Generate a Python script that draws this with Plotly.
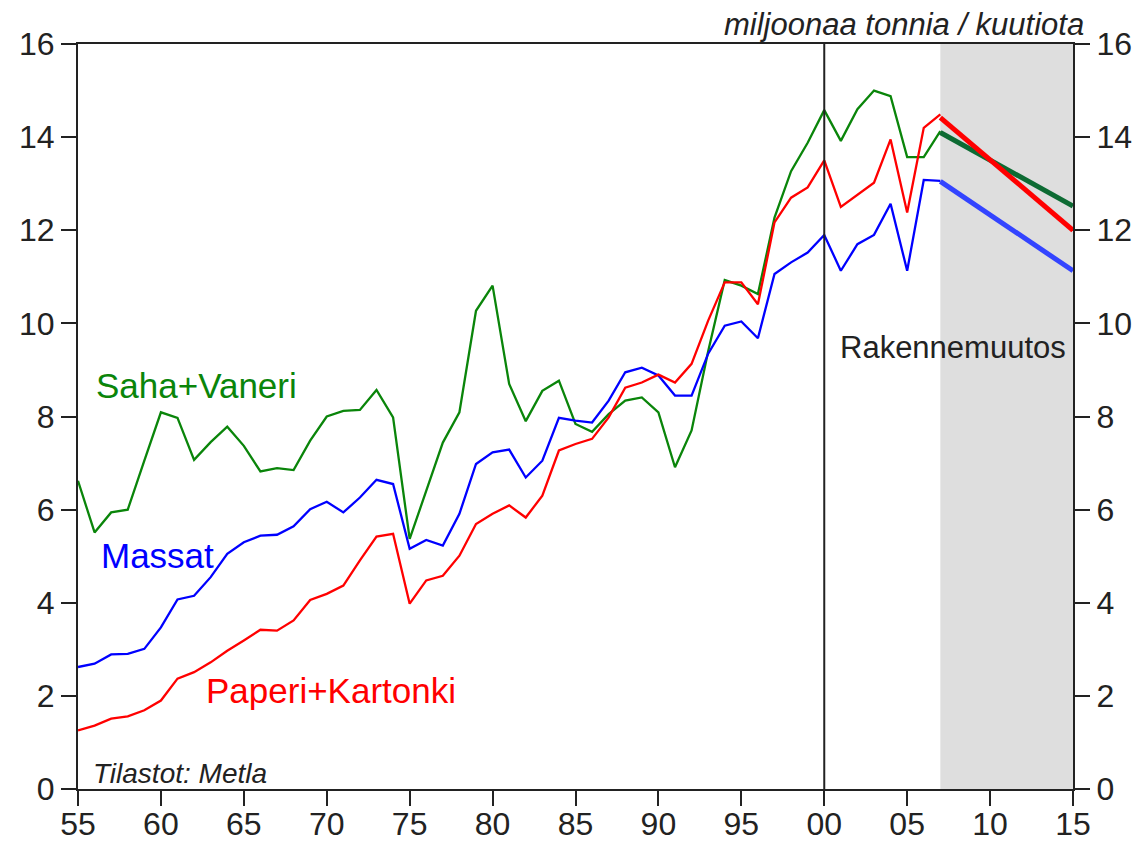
import plotly.graph_objects as go

years = list(range(1955, 2008))

saha_vaneri = [6.62, 5.51, 5.94, 6.00, 7.05, 8.09, 7.97, 7.07, 7.45, 7.78,
               7.37, 6.82, 6.89, 6.85, 7.48, 8.00, 8.12, 8.14, 8.57, 7.98,
               5.37, 6.41, 7.44, 8.09, 10.27, 10.81, 8.70, 7.90, 8.55, 8.77,
               7.84, 7.67, 8.05, 8.34, 8.41, 8.09, 6.91, 7.70, 9.40, 10.93,
               10.81, 10.63, 12.27, 13.27, 13.88, 14.58, 13.92, 14.60, 15.00, 14.88,
               13.57, 13.57, 14.13]

massat = [2.62, 2.69, 2.89, 2.90, 3.01, 3.47, 4.07, 4.15, 4.55, 5.05,
          5.30, 5.44, 5.46, 5.64, 6.01, 6.17, 5.94, 6.26, 6.64, 6.55,
          5.16, 5.35, 5.23, 5.91, 6.98, 7.23, 7.29, 6.69, 7.05, 7.97,
          7.91, 7.87, 8.34, 8.95, 9.05, 8.88, 8.45, 8.45, 9.35, 9.95,
          10.04, 9.68, 11.06, 11.31, 11.52, 11.90, 11.13, 11.70, 11.90, 12.57,
          11.13, 13.08, 13.06]

paperi_kartonki = [1.26, 1.36, 1.51, 1.56, 1.69, 1.90, 2.37, 2.51, 2.72, 2.97,
                   3.19, 3.42, 3.40, 3.62, 4.06, 4.19, 4.37, 4.91, 5.42, 5.48,
                   3.98, 4.48, 4.58, 5.01, 5.69, 5.91, 6.09, 5.83, 6.30, 7.27,
                   7.41, 7.52, 7.98, 8.62, 8.73, 8.90, 8.73, 9.13, 10.06, 10.88,
                   10.88, 10.41, 12.17, 12.70, 12.92, 13.50, 12.50, 12.77, 13.02, 13.95,
                   12.38, 14.20, 14.49]

proj_years = [2007, 2015]
proj_saha = [14.10, 12.52]
proj_paperi = [14.42, 12.00]
proj_massat = [13.05, 11.13]

tick_years = list(range(1955, 2016, 5))
tick_labels = ["55", "60", "65", "70", "75", "80", "85", "90", "95", "00", "05", "10", "15"]
y_ticks = [0, 2, 4, 6, 8, 10, 12, 14, 16]

FONT = "Liberation Sans, Arial, sans-serif"
GREEN = "#0a850a"
BLUE = "#0000ff"
RED = "#ff0000"

fig = go.Figure()

fig.add_trace(go.Scatter(x=years, y=saha_vaneri, mode="lines",
                         line=dict(color=GREEN, width=2.3), showlegend=False))
fig.add_trace(go.Scatter(x=years, y=massat, mode="lines",
                         line=dict(color=BLUE, width=2.3), showlegend=False))
fig.add_trace(go.Scatter(x=years, y=paperi_kartonki, mode="lines",
                         line=dict(color=RED, width=2.3), showlegend=False))

fig.add_trace(go.Scatter(x=proj_years, y=proj_massat, mode="lines", yaxis="y2",
                         line=dict(color="#3344ff", width=5), showlegend=False))
fig.add_trace(go.Scatter(x=proj_years, y=proj_saha, mode="lines", yaxis="y2",
                         line=dict(color="#0d6b33", width=5), showlegend=False))
fig.add_trace(go.Scatter(x=proj_years, y=proj_paperi, mode="lines", yaxis="y2",
                         line=dict(color=RED, width=5), showlegend=False))

# shaded forecast period
fig.add_shape(type="rect", xref="x", yref="y", x0=2007, x1=2015, y0=0, y1=16,
              fillcolor="#dedede", line=dict(width=0), layer="below")
# vertical line at 2000
fig.add_shape(type="line", xref="x", yref="y", x0=2000, x1=2000, y0=0, y1=16,
              line=dict(color="#222222", width=2))

axis_common = dict(showgrid=False, zeroline=False, showline=True, linecolor="#222222",
                   linewidth=2, ticks="outside", ticklen=15, tickwidth=2, tickcolor="#222222",
                   automargin=False,
                   tickfont=dict(family=FONT, size=32, color="#222222"))

fig.update_layout(
    width=1134, height=834,
    margin=dict(l=70, r=69, t=36, b=53),
    paper_bgcolor="white", plot_bgcolor="white",
    xaxis=dict(range=[1955, 2015], tickvals=tick_years, ticktext=tick_labels,
               mirror=True, ticklabelstandoff=-9, **axis_common),
    yaxis=dict(range=[0, 16], tickvals=y_ticks, **axis_common),
    yaxis2=dict(range=[0, 16], tickvals=y_ticks, overlaying="y", side="right", **axis_common),
)

fig.add_annotation(text="<i>miljoonaa tonnia / kuutiota</i>", xref="paper", yref="paper",
                   x=1.013, y=1.0, xanchor="right", yanchor="bottom", showarrow=False,
                   font=dict(family=FONT, size=31, color="#222222"))
fig.add_annotation(text="Saha+Vaneri", x=1955.97, y=8.66, xanchor="left", yanchor="middle",
                   showarrow=False, font=dict(family=FONT, size=35, color=GREEN))
fig.add_annotation(text="Massat", x=1956.27, y=5.01, xanchor="left", yanchor="middle",
                   showarrow=False, font=dict(family=FONT, size=35, color=BLUE))
fig.add_annotation(text="Paperi+Kartonki", x=1962.6, y=2.12, xanchor="left", yanchor="middle",
                   showarrow=False, font=dict(family=FONT, size=35, color=RED))
fig.add_annotation(text="<i>Tilastot: Metla</i>", x=1955.8, y=0.33, xanchor="left", yanchor="middle",
                   showarrow=False, font=dict(family=FONT, size=28, color="#222222"))
fig.add_annotation(text="Rakennemuutos", x=2000.8, y=9.48, xanchor="left", yanchor="middle",
                   showarrow=False, font=dict(family=FONT, size=31, color="#222222"))

fig.write_html("out.html")
